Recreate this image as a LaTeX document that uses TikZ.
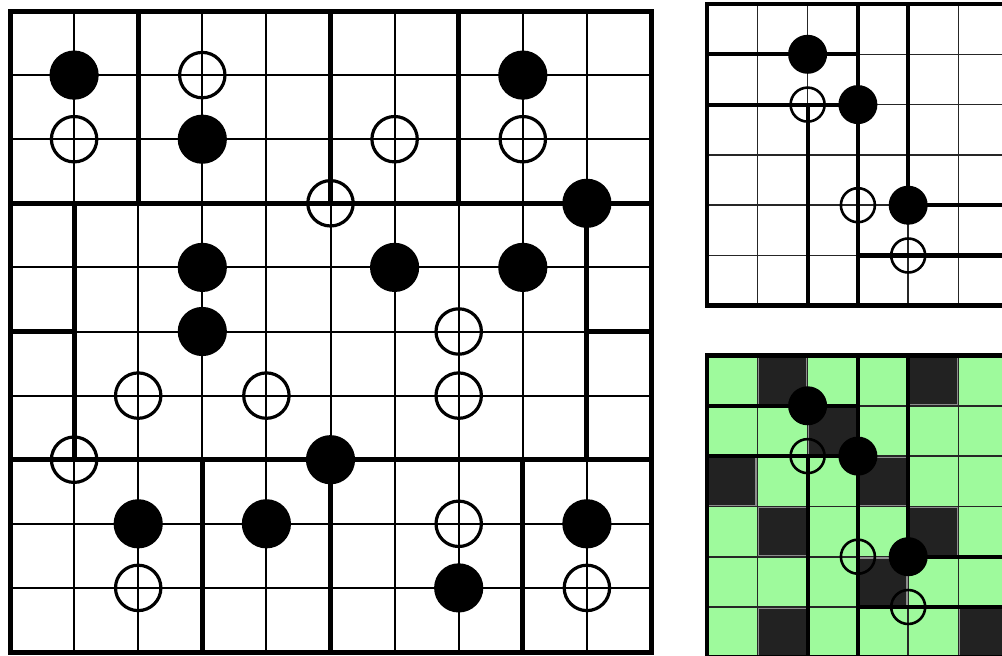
\documentclass[tikz,border=0pt]{standalone}
\usetikzlibrary{calc}
\definecolor{cellgreen}{RGB}{158,250,156}
\definecolor{celldark}{RGB}{34,34,34}
\tikzset{
  thinline/.style={line width=2pt, black},
  thickline/.style={line width=5pt, black, line cap=rect},
  bstone/.style={fill=black},
  wstone/.style={draw=black, line width=3.2pt},
  sthin/.style={line width=1.6pt, black!85},
  sthick/.style={line width=4.2pt, black, line cap=rect},
  sframe/.style={line width=4.8pt, black},
  sbstone/.style={fill=black},
  swstone/.style={draw=black, line width=2.6pt},
  darkcell/.style={fill=celldark, draw=black!45, line width=1.3pt},
}
\newcommand\smallthin{%
  \foreach \k in {1,...,5} {
    \draw[sthin] (\k,0) -- (\k,6);
    \draw[sthin] (0,\k) -- (6,\k);
  }%
}
\newcommand\smallthick{%
  \draw[sframe] (0,0) rectangle (6,6);
  \draw[sthick] (0,1) -- (3,1) (0,2) -- (3,2) (2,2) -- (2,6) (3,0) -- (3,6)
    (4,0) -- (4,4) (4,4) -- (6,4) (3,5) -- (6,5);
  \foreach \x/\y in {2/1, 3/2, 4/4} \fill[sbstone] (\x,\y) circle[radius=19.5pt];
  \foreach \x/\y in {2/2, 3/4, 4/5} \draw[swstone] (\x,\y) circle[radius=17pt];
}
\begin{document}
\begin{tikzpicture}[x=1pt,y=-1pt]
\useasboundingbox (0,0) rectangle (1002,656);
\clip (0,0) rectangle (1002,656);
\fill[white] (0,0) rectangle (1002,656);

% left board
\begin{scope}[shift={(10pt,-11pt)}, x=64.1pt, y=-64.1pt]
  \foreach \k in {1,...,9} {
    \draw[thinline] (\k,0) -- (\k,10);
    \draw[thinline] (0,\k) -- (10,\k);
  }
  \draw[thickline] (0,0) rectangle (10,10);
  \draw[thickline] (0,3) -- (10,3) (0,7) -- (10,7)
    (2,0) -- (2,3) (5,0) -- (5,3) (7,0) -- (7,3)
    (1,3) -- (1,7) (0,5) -- (1,5)
    (9,3) -- (9,7) (9,5) -- (10,5)
    (3,7) -- (3,10) (5,7) -- (5,10) (8,7) -- (8,10);
  \foreach \x/\y in {1/1, 3/2, 8/1, 9/3, 3/4, 6/4, 8/4, 3/5, 5/7, 2/8, 4/8, 9/8, 7/9}
    \fill[bstone] (\x,\y) circle[radius=24.6pt];
  \foreach \x/\y in {1/2, 3/1, 6/2, 8/2, 5/3, 7/5, 2/6, 4/6, 7/6, 1/7, 7/8, 2/9, 9/9}
    \draw[wstone] (\x,\y) circle[radius=22.7pt];
\end{scope}

% top right board
\begin{scope}[shift={(707pt,-4pt)}, x=50.3pt, y=-50.3pt]
  \smallthin
  \smallthick
\end{scope}

% bottom right board
\begin{scope}[shift={(707pt,-355.5pt)}, x=50.3pt, y=-50.3pt]
  \fill[cellgreen] (0,0) rectangle (6,6);
  \smallthin
  \foreach \x/\y in {1/0, 4/0, 2/1, 0/2, 3/2, 1/3, 4/3, 3/4, 1/5, 5/5}
    \draw[darkcell] ($(\x,\y)+(1.2pt,-1.2pt)$) rectangle ($(\x,\y)+(1,1)+(-1.2pt,1.2pt)$);
  \smallthick
\end{scope}
\end{tikzpicture}
\end{document}
